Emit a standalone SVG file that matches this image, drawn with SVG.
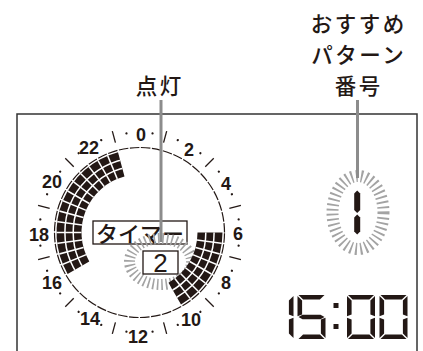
<svg xmlns="http://www.w3.org/2000/svg" width="423" height="351" viewBox="0 0 423 351">
<style>
.jp{font-family:"Noto Sans CJK JP","Noto Sans CJK SC",sans-serif;font-weight:500;fill:#231815}
.lbl{font-size:21.5px;letter-spacing:2.5px;text-anchor:middle}
.hr{font-family:"Liberation Sans",Arial,sans-serif;font-weight:bold;font-size:18px;fill:#231815;text-anchor:middle}
.blk{fill:#231815}
.sep{stroke:#fff;stroke-width:1.5;fill:none}
.tick{stroke:#231815;stroke-width:1.3}
.lead{stroke:#8c8c8c;stroke-width:3}
.burst{fill:none;stroke:#a3a3a3}
.seg{fill:#231815}
</style>
<defs>
<line id="rad" class="sep" x1="139.5" y1="140" x2="139.5" y2="182"/>
<line id="tk" class="tick" x1="139.5" y1="139.5" x2="139.5" y2="127.5"/>
<circle id="dt" cx="139.5" cy="132.5" r="1.15" fill="#231815"/>
<polygon id="sa" points="1,0 27,0 22.4,4.6 5.6,4.6"/>
<polygon id="sf" points="0,1 4.6,5.6 4.6,19.4 0,21.2"/>
<polygon id="sb" points="28,1 28,21.2 23.4,19.4 23.4,5.6"/>
<polygon id="sg" points="1,22 5,19.8 23,19.8 27,22 23,24.2 5,24.2"/>
<polygon id="se" points="0,22.8 4.6,24.6 4.6,38.4 0,43"/>
<polygon id="sc" points="28,22.8 28,43 23.4,38.4 23.4,24.6"/>
<polygon id="sd" points="5.6,39.4 22.4,39.4 27,44 1,44"/>
<g id="d0" class="seg"><use href="#sa"/><use href="#sb"/><use href="#sc"/><use href="#sd"/><use href="#se"/><use href="#sf"/></g>
<clipPath id="blkclip">
<path d="M67.62 274 A83 83 0 0 1 118.02 152.33 L124.49 176.48 A58 58 0 0 0 89.27 261.5 Z"/>
<path d="M222.5 232.5 A83 83 0 0 1 181 304.38 L168.5 282.73 A58 58 0 0 0 197.5 232.5 Z"/>
</clipPath>
</defs>

<rect id="frame" x="17" y="114" width="400" height="260" fill="#fff" stroke="#333" stroke-width="1.5"/>

<g id="label-tento"><text class="jp lbl" x="159.8" y="93.5">点灯</text></g>
<g id="label-pattern">
<text class="jp lbl" x="358.7" y="31.5">おすすめ</text>
<text class="jp lbl" x="358.7" y="62.7">パターン</text>
<text class="jp lbl" x="358.7" y="94">番号</text>
</g>

<g id="dial">
<circle cx="139.5" cy="232.5" r="85" fill="none" stroke="#231815" stroke-width="1.2" stroke-dasharray="9.6 1.526" stroke-dashoffset="-0.763"/>
<g id="ticks">
<use href="#tk" transform="rotate(15 139.5 232.5)"/><use href="#tk" transform="rotate(45 139.5 232.5)"/>
<use href="#tk" transform="rotate(75 139.5 232.5)"/><use href="#tk" transform="rotate(105 139.5 232.5)"/>
<use href="#tk" transform="rotate(135 139.5 232.5)"/><use href="#tk" transform="rotate(165 139.5 232.5)"/>
<use href="#tk" transform="rotate(195 139.5 232.5)"/><use href="#tk" transform="rotate(225 139.5 232.5)"/>
<use href="#tk" transform="rotate(255 139.5 232.5)"/><use href="#tk" transform="rotate(285 139.5 232.5)"/>
<use href="#tk" transform="rotate(315 139.5 232.5)"/><use href="#tk" transform="rotate(345 139.5 232.5)"/>
</g>
<g id="dots">
<use href="#dt" transform="rotate(7.5 139.5 232.5)"/><use href="#dt" transform="rotate(22.5 139.5 232.5)"/>
<use href="#dt" transform="rotate(37.5 139.5 232.5)"/><use href="#dt" transform="rotate(52.5 139.5 232.5)"/>
<use href="#dt" transform="rotate(67.5 139.5 232.5)"/><use href="#dt" transform="rotate(82.5 139.5 232.5)"/>
<use href="#dt" transform="rotate(97.5 139.5 232.5)"/><use href="#dt" transform="rotate(112.5 139.5 232.5)"/>
<use href="#dt" transform="rotate(127.5 139.5 232.5)"/><use href="#dt" transform="rotate(142.5 139.5 232.5)"/>
<use href="#dt" transform="rotate(157.5 139.5 232.5)"/><use href="#dt" transform="rotate(172.5 139.5 232.5)"/>
<use href="#dt" transform="rotate(187.5 139.5 232.5)"/><use href="#dt" transform="rotate(202.5 139.5 232.5)"/>
<use href="#dt" transform="rotate(217.5 139.5 232.5)"/><use href="#dt" transform="rotate(232.5 139.5 232.5)"/>
<use href="#dt" transform="rotate(247.5 139.5 232.5)"/><use href="#dt" transform="rotate(262.5 139.5 232.5)"/>
<use href="#dt" transform="rotate(277.5 139.5 232.5)"/><use href="#dt" transform="rotate(292.5 139.5 232.5)"/>
<use href="#dt" transform="rotate(307.5 139.5 232.5)"/><use href="#dt" transform="rotate(322.5 139.5 232.5)"/>
<use href="#dt" transform="rotate(337.5 139.5 232.5)"/><use href="#dt" transform="rotate(352.5 139.5 232.5)"/>
</g>
<g id="hours">
<text class="hr" x="141" y="140.5">0</text>
<text class="hr" x="189" y="155.5">2</text>
<text class="hr" x="226" y="189.5">4</text>
<text class="hr" x="238" y="239.5">6</text>
<text class="hr" x="226" y="288.5">8</text>
<text class="hr" x="191" y="325.5">10</text>
<text class="hr" x="138" y="342.5">12</text>
<text class="hr" x="90" y="324.5">14</text>
<text class="hr" x="52" y="288.5">16</text>
<text class="hr" x="39" y="240.5">18</text>
<text class="hr" x="52" y="187.5">20</text>
<text class="hr" x="89" y="153.5">22</text>
</g>
</g>

<g id="timer-box">
<rect x="93" y="221" width="94" height="23" fill="#fff" stroke="#231815" stroke-width="1.3"/>
<text class="jp" x="140" y="241.5" font-size="22" font-weight="400" text-anchor="middle">タイマー</text>
</g>

<g id="burst-2">
<ellipse class="burst" cx="160.5" cy="261.5" rx="31" ry="23" stroke-width="11" stroke-dasharray="1.6 2.86"/>
</g>

<g id="number-box">
<rect x="143" y="251" width="35" height="23" fill="#fff" stroke="#231815" stroke-width="1.3"/>
<text x="160.5" y="272" font-family="'Liberation Sans',Arial,sans-serif" font-size="26" fill="#231815" text-anchor="middle">2</text>
</g>

<g id="segments-lit">
<path class="blk" d="M67.62 274 A83 83 0 0 1 118.02 152.33 L124.49 176.48 A58 58 0 0 0 89.27 261.5 Z"/>
<path class="blk" d="M222.5 232.5 A83 83 0 0 1 181 304.38 L168.5 282.73 A58 58 0 0 0 197.5 232.5 Z"/>
<g clip-path="url(#blkclip)">
<circle class="sep" cx="139.5" cy="232.5" r="66.3"/>
<circle class="sep" cx="139.5" cy="232.5" r="74.6"/>
<use href="#rad" transform="rotate(97.5 139.5 232.5)"/><use href="#rad" transform="rotate(105 139.5 232.5)"/>
<use href="#rad" transform="rotate(112.5 139.5 232.5)"/><use href="#rad" transform="rotate(120 139.5 232.5)"/>
<use href="#rad" transform="rotate(127.5 139.5 232.5)"/><use href="#rad" transform="rotate(135 139.5 232.5)"/>
<use href="#rad" transform="rotate(142.5 139.5 232.5)"/>
<use href="#rad" transform="rotate(247.5 139.5 232.5)"/><use href="#rad" transform="rotate(255 139.5 232.5)"/>
<use href="#rad" transform="rotate(262.5 139.5 232.5)"/><use href="#rad" transform="rotate(270 139.5 232.5)"/>
<use href="#rad" transform="rotate(277.5 139.5 232.5)"/><use href="#rad" transform="rotate(285 139.5 232.5)"/>
<use href="#rad" transform="rotate(292.5 139.5 232.5)"/><use href="#rad" transform="rotate(300 139.5 232.5)"/>
<use href="#rad" transform="rotate(307.5 139.5 232.5)"/><use href="#rad" transform="rotate(315 139.5 232.5)"/>
<use href="#rad" transform="rotate(322.5 139.5 232.5)"/><use href="#rad" transform="rotate(330 139.5 232.5)"/>
<use href="#rad" transform="rotate(337.5 139.5 232.5)"/>
</g>
</g>

<g id="pattern-number">
<ellipse class="burst" cx="358" cy="212.5" rx="25.5" ry="36.5" stroke-width="12" stroke-dasharray="1.8 3.19"/>
<polygon class="seg" points="357.2,190.5 360.2,193.5 360.2,210 357.2,213 354.2,210 354.2,193.5"/>
<polygon class="seg" points="357.2,214.5 360.2,217.5 360.2,231.5 357.2,234.5 354.2,231.5 354.2,217.5"/>
</g>

<g id="clock-1500">
<g class="seg" transform="translate(265.5 295)"><use href="#sb"/><use href="#sc"/></g>
<g class="seg" transform="translate(297.5 295)"><use href="#sa"/><use href="#sf"/><use href="#sg"/><use href="#sc"/><use href="#sd"/></g>
<rect class="seg" x="333.5" y="303" width="5" height="5"/>
<rect class="seg" x="333.5" y="324" width="5" height="5"/>
<use href="#d0" transform="translate(347 295)"/>
<use href="#d0" transform="translate(379.5 295)"/>
</g>

<g id="connectors">
<line class="lead" x1="161" y1="100" x2="161" y2="242"/>
<line class="lead" x1="357.5" y1="100" x2="357.5" y2="178"/>
</g>
</svg>
